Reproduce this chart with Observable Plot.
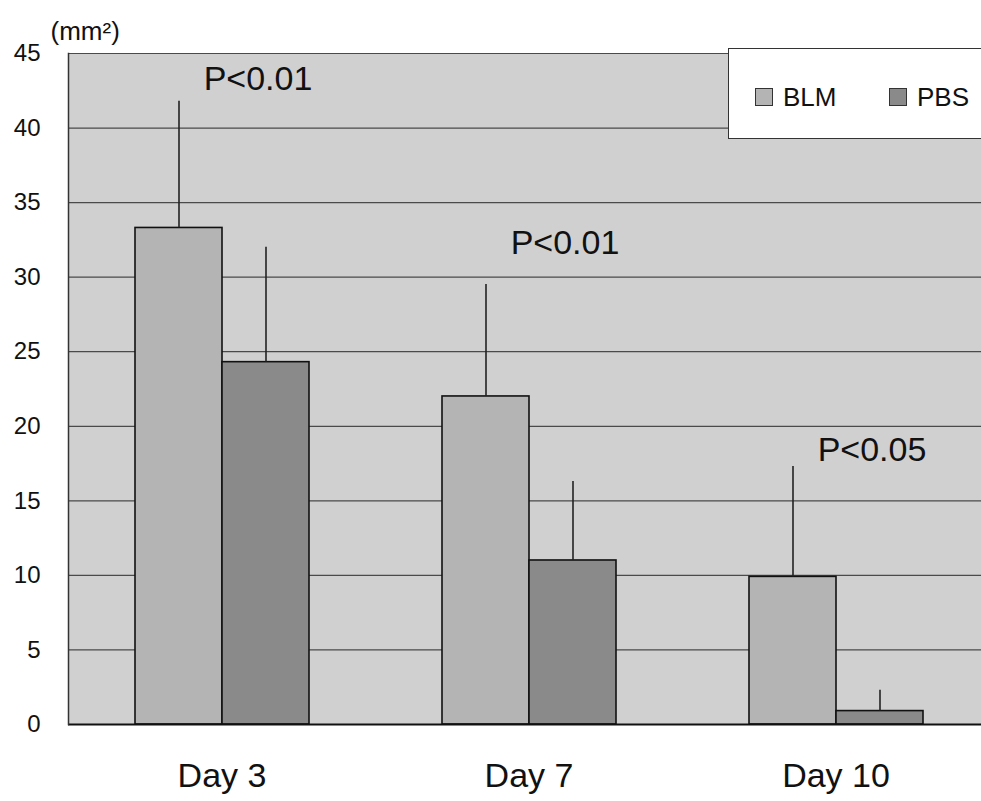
<!DOCTYPE html>
<html>
<head>
<meta charset="utf-8">
<script src="https://cdn.jsdelivr.net/npm/d3@7"></script>
<script src="https://cdn.jsdelivr.net/npm/@observablehq/plot@0.6"></script>
<style>
  html, body { margin: 0; padding: 0; background: #fff; overflow: hidden; }
  #wrap { position: relative; width: 981px; height: 801px; font-family: "Liberation Sans", Arial, sans-serif; }
  #legend { position: absolute; left: 728px; top: 48px; width: 270px; height: 91px; background: #fff; border: 1px solid #333; box-sizing: border-box; }
  .item { position: absolute; top: 35px; display: flex; align-items: center; font-size: 26px; color: #111; line-height: 1; }
  .sw { width: 18px; height: 18px; border: 1px solid #333; margin-right: 10px; box-sizing: border-box; }
</style>
</head>
<body>
<div id="wrap"></div>
<script>
const days = ["Day 3", "Day 7", "Day 10"];
const series = ["BLM", "PBS"];
const blmMean = [33.3, 22.0, 9.9];
const blmSD = [8.5, 7.5, 7.4];
const pbsMean = [24.3, 11.0, 0.9];
const pbsSD = [7.7, 5.3, 1.4];
const pText = ["P<0.01", "P<0.01", "P<0.05"];
const pLevel = [43.3, 32.3, 18.4];
const yTicks = [0, 5, 10, 15, 20, 25, 30, 35, 40, 45];
const colors = ["#b4b4b4", "#8a8a8a"];
const bgColor = "#d0d0d0";

const data = [];
days.forEach((d, i) => {
  data.push({day: d, series: "BLM", value: blmMean[i], sd: blmSD[i]});
  data.push({day: d, series: "PBS", value: pbsMean[i], sd: pbsSD[i]});
});
const pData = days.map((d, i) => ({day: d, series: "PBS", text: pText[i], level: pLevel[i]}));

const chart = Plot.plot({
  width: 981,
  height: 801,
  marginTop: 53,
  marginBottom: 77,
  marginLeft: 67,
  marginRight: -9,
  style: {fontFamily: "Liberation Sans, Arial, sans-serif", background: "transparent", color: "#111"},
  fx: {domain: days, padding: 0, label: null},
  x: {domain: series, paddingInner: 0, paddingOuter: 0.748, axis: null},
  y: {domain: [0, 45], label: null},
  color: {domain: series, range: colors},
  marks: [
    Plot.frame({fill: bgColor, stroke: bgColor, strokeWidth: 1}),
    Plot.ruleY(yTicks.filter(t => t > 0), {stroke: "#4a4a4a", strokeWidth: 1.2}),
    Plot.barY(data, {fx: "day", x: "series", y: "value", fill: "series", stroke: "#111", strokeWidth: 1.6}),
    Plot.ruleX(data, {fx: "day", x: "series", y1: "value", y2: d => d.value + d.sd, stroke: "#222", strokeWidth: 1.6}),
    Plot.ruleY([0], {stroke: "#111", strokeWidth: 2}),
    Plot.frame({anchor: "left", facetAnchor: "left", stroke: "#333", strokeWidth: 1.5}),
    Plot.axisY({ticks: yTicks, tickSize: 0, tickPadding: 28, fontSize: 24, label: null}),
    Plot.axisFx({anchor: "bottom", tickSize: 0, tickPadding: 38, fontSize: 34, label: null}),
    Plot.text(pData, {fx: "day", x: "series", y: "level", text: "text", dx: -8, fontSize: 34, fill: "#111"}),
    Plot.text([{day: "Day 3"}], {fx: "day", text: () => "(mm²)", frameAnchor: "top-left", textAnchor: "start", lineAnchor: "bottom", dx: -18, dy: -14, fontSize: 26, fill: "#111"})
  ]
});
chart.style.position = "absolute";
chart.style.left = "0px";
chart.style.top = "0px";
chart.style.maxWidth = "none";
chart.style.overflow = "hidden";
const wrap = document.getElementById("wrap");
wrap.appendChild(chart);

const legend = document.createElement("div");
legend.id = "legend";
const lefts = [26, 160];
series.forEach((s, i) => {
  const it = document.createElement("div");
  it.className = "item";
  it.style.left = lefts[i] + "px";
  const sw = document.createElement("div");
  sw.className = "sw";
  sw.style.background = colors[i];
  const lb = document.createElement("span");
  lb.textContent = s;
  it.appendChild(sw);
  it.appendChild(lb);
  legend.appendChild(it);
});
wrap.appendChild(legend);
</script>
</body>
</html>
